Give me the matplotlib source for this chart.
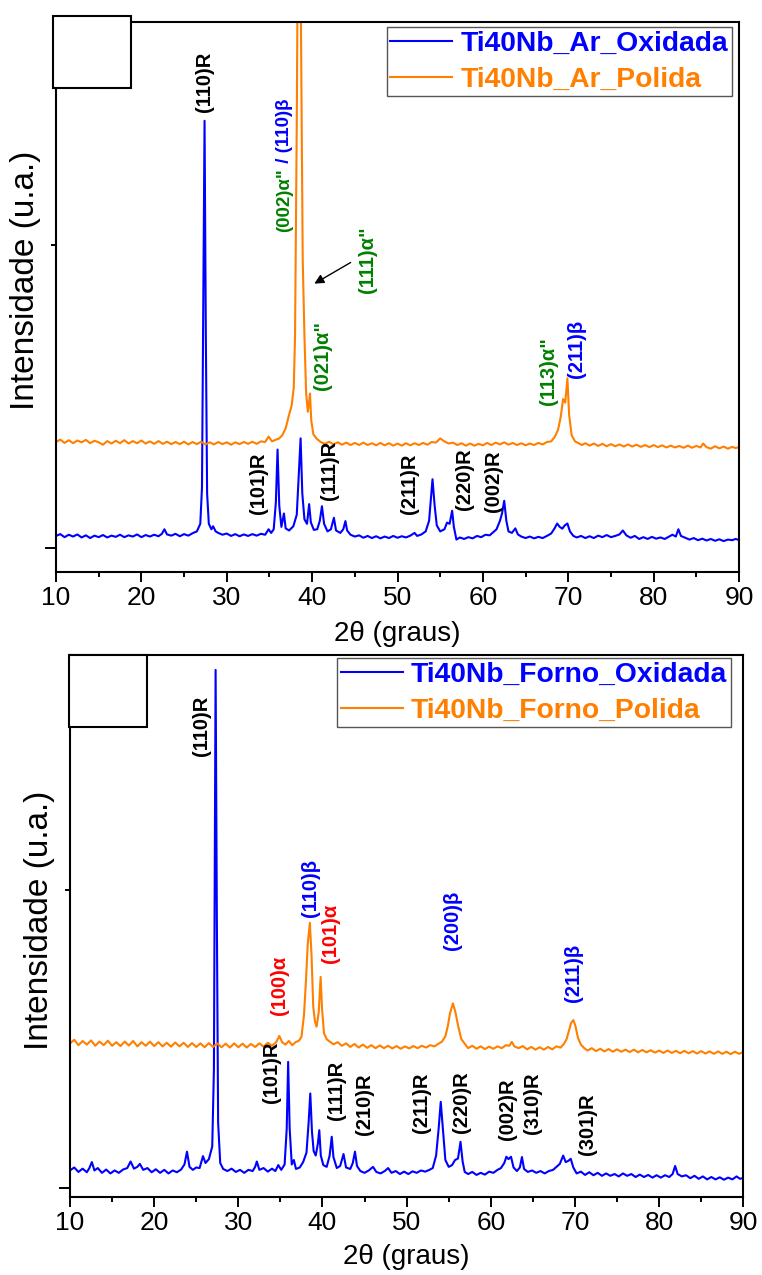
import matplotlib
matplotlib.use('Agg')
import matplotlib.pyplot as plt
from matplotlib.patches import Rectangle

plt.rcParams['font.family'] = ['Liberation Sans', 'DejaVu Sans']

# ---------------- data (2theta in degrees, intensity in arbitrary units) ----------------
ar_ox_2theta = [10.0, 10.5, 11.0, 11.5, 12.0, 12.5, 13.0, 13.5, 14.0, 14.5, 15.0, 15.5, 16.0, 16.5, 17.0, 17.5,
                18.0, 18.5, 19.0, 19.5, 20.0, 20.5, 21.0, 21.5, 22.0, 22.4, 22.7, 23.0, 23.5, 24.0, 24.5, 25.0,
                25.5, 26.0, 26.5, 26.9, 27.1, 27.25, 27.4, 27.55, 27.7, 27.9, 28.2, 28.4, 28.7, 29.0, 29.5, 30.0,
                30.5, 31.0, 31.5, 32.0, 32.5, 33.0, 33.5, 34.0, 34.5, 34.9, 35.2, 35.5, 35.75, 35.95, 36.15, 36.4,
                36.7, 36.9, 37.3, 37.8, 38.2, 38.45, 38.65, 38.85, 39.1, 39.4, 39.65, 39.85, 40.2, 40.6, 40.9, 41.15,
                41.4, 41.8, 42.2, 42.55, 42.8, 43.3, 43.65, 43.9, 44.1, 44.5, 45.0, 45.5, 46.0, 46.5, 47.0, 47.5,
                48.0, 48.5, 49.0, 49.5, 50.0, 50.5, 51.0, 51.5, 52.0, 52.3, 52.8, 53.3, 53.7, 54.1, 54.35, 54.6,
                55.0, 55.5, 55.8, 56.1, 56.4, 56.6, 56.9, 57.3, 57.8, 58.3, 58.8, 59.3, 59.8, 60.3, 60.8, 61.2,
                61.6, 62.0, 62.25, 62.5, 62.75, 63.0, 63.4, 63.8, 64.1, 64.5, 65.0, 65.5, 66.0, 66.5, 67.0, 67.5,
                68.0, 68.4, 68.7, 69.0, 69.3, 69.6, 69.9, 70.2, 70.6, 71.0, 71.5, 72.0, 72.5, 73.0, 73.5, 74.0,
                74.5, 75.0, 75.5, 76.0, 76.4, 76.8, 77.3, 77.8, 78.3, 78.8, 79.3, 79.8, 80.3, 80.8, 81.3, 81.8,
                82.2, 82.6, 82.9, 83.2, 83.7, 84.2, 84.7, 85.2, 85.7, 86.2, 86.7, 87.2, 87.7, 88.2, 88.7, 89.2,
                89.6, 90.0]
ar_ox_int = [40, 46, 36, 44, 38, 45, 35, 42, 33, 41, 36, 43, 35, 41, 37, 44,
             36, 42, 38, 45, 36, 43, 38, 44, 39, 47, 62, 45, 41, 47, 39, 46,
             41, 49, 55, 80, 200, 800, 1410, 700, 180, 80, 62, 72, 55, 50, 44, 48,
             40, 46, 39, 45, 40, 46, 41, 47, 44, 62, 50, 62, 150, 325, 140, 70,
             114, 65, 58, 72, 110, 250, 362, 180, 95, 80, 145, 85, 60, 62, 90, 138,
             80, 55, 62, 100, 58, 50, 62, 89, 58, 44, 38, 42, 34, 40, 33, 39,
             32, 38, 33, 40, 34, 39, 35, 41, 50, 40, 45, 55, 90, 227, 140, 75,
             55, 62, 84, 80, 123, 70, 28, 35, 30, 36, 32, 40, 36, 44, 42, 52,
             62, 90, 115, 156, 90, 55, 50, 65, 45, 38, 33, 38, 32, 37, 33, 40,
             48, 65, 81, 70, 64, 75, 81, 55, 40, 35, 40, 33, 39, 33, 41, 36,
             43, 36, 40, 45, 58, 42, 34, 40, 30, 36, 30, 37, 31, 35, 30, 38,
             44, 38, 62, 40, 34, 28, 33, 26, 31, 25, 30, 24, 29, 23, 28, 26,
             30, 27]

ar_pol_2theta = [10.0, 10.5, 11.0, 11.5, 12.0, 12.5, 13.0, 13.5, 14.0, 14.5, 15.0, 15.5, 16.0, 16.5, 17.0, 17.5,
                 18.0, 18.5, 19.0, 19.5, 20.0, 20.5, 21.0, 21.5, 22.0, 22.5, 23.0, 23.5, 24.0, 24.5, 25.0, 25.5,
                 26.0, 26.5, 27.0, 27.5, 28.0, 28.5, 29.0, 29.5, 30.0, 30.5, 31.0, 31.5, 32.0, 32.5, 33.0, 33.5,
                 34.0, 34.5, 34.9, 35.3, 35.7, 36.1, 36.5, 36.9, 37.3, 37.6, 37.85, 38.0, 38.2, 38.45, 38.7, 38.9,
                 39.1, 39.3, 39.5, 39.62, 39.75, 39.9, 40.15, 40.5, 41.0, 41.5, 42.0, 42.5, 43.0, 43.5, 44.0, 44.5,
                 45.0, 45.5, 46.0, 46.5, 47.0, 47.5, 48.0, 48.5, 49.0, 49.5, 50.0, 50.5, 51.0, 51.5, 52.0, 52.5,
                 53.0, 53.5, 54.0, 54.5, 55.0, 55.5, 56.0, 56.5, 57.0, 57.5, 58.0, 58.5, 59.0, 59.5, 60.0, 60.5,
                 61.0, 61.5, 62.0, 62.5, 63.0, 63.5, 64.0, 64.5, 65.0, 65.5, 66.0, 66.5, 67.0, 67.5, 68.0, 68.4,
                 68.8, 69.1, 69.4, 69.65, 69.9, 70.1, 70.4, 70.8, 71.2, 71.6, 72.0, 72.5, 73.0, 73.5, 74.0, 74.5,
                 75.0, 75.5, 76.0, 76.5, 77.0, 77.5, 78.0, 78.5, 79.0, 79.5, 80.0, 80.5, 81.0, 81.5, 82.0, 82.5,
                 83.0, 83.5, 84.0, 84.5, 85.0, 85.5, 85.8, 86.2, 86.7, 87.2, 87.7, 88.2, 88.7, 89.2, 89.6, 90.0]
ar_pol_int = [350, 358, 347, 356, 346, 355, 349, 357, 346, 354, 349, 341, 353, 345, 354, 346,
              356, 345, 353, 346, 355, 345, 352, 344, 353, 344, 351, 343, 350, 343, 351, 342,
              350, 343, 351, 342, 349, 342, 350, 343, 349, 341, 349, 343, 350, 344, 351, 344,
              352, 350, 368, 352, 357, 361, 372, 395, 440, 470, 530, 700, 1400, 2600, 1700, 950,
              700, 510, 450, 475, 510, 420, 375, 362, 350, 344, 351, 342, 349, 341, 348, 340,
              347, 340, 348, 340, 346, 339, 347, 339, 346, 338, 345, 338, 346, 339, 346, 340,
              347, 341, 350, 348, 362, 352, 345, 348, 340, 346, 338, 345, 338, 344, 339, 347,
              340, 348, 342, 349, 341, 347, 340, 346, 339, 345, 340, 347, 342, 350, 352, 366,
              390, 430, 492, 480, 560, 440, 372, 352, 346, 340, 346, 338, 345, 337, 344, 336,
              343, 336, 342, 335, 342, 335, 341, 334, 340, 333, 340, 333, 339, 332, 338, 332,
              337, 331, 338, 331, 337, 332, 345, 333, 328, 336, 329, 335, 328, 334, 330, 333]

forno_ox_2theta = [10.0, 10.5, 11.0, 11.5, 12.0, 12.3, 12.6, 12.9, 13.3, 13.8, 14.3, 14.8, 15.3, 15.8, 16.3, 16.8,
                   17.2, 17.6, 18.0, 18.3, 18.7, 19.2, 19.7, 20.2, 20.7, 21.2, 21.7, 22.2, 22.7, 23.2, 23.6, 23.9,
                   24.2, 24.6, 25.0, 25.4, 25.8, 26.1, 26.5, 26.9, 27.1, 27.3, 27.45, 27.6, 27.85, 28.2, 28.7, 29.2,
                   29.7, 30.2, 30.7, 31.2, 31.7, 32.0, 32.2, 32.5, 33.0, 33.5, 34.0, 34.4, 34.75, 35.1, 35.5, 35.75,
                   35.92, 36.1, 36.35, 36.6, 36.85, 37.3, 37.7, 38.1, 38.35, 38.55, 38.75, 38.95, 39.2, 39.45, 39.62, 39.8,
                   40.1, 40.5, 40.85, 41.1, 41.3, 41.7, 42.1, 42.5, 42.8, 43.3, 43.6, 43.86, 44.1, 44.5, 45.0, 45.5,
                   46.0, 46.4, 46.9, 47.4, 47.8, 48.2, 48.7, 49.2, 49.7, 50.2, 50.7, 51.2, 51.7, 52.2, 52.7, 53.1,
                   53.5, 53.8, 54.05, 54.3, 54.6, 55.0, 55.4, 55.75, 56.1, 56.4, 56.65, 56.9, 57.3, 57.8, 58.3, 58.8,
                   59.3, 59.8, 60.3, 60.8, 61.2, 61.6, 61.85, 62.1, 62.4, 62.7, 63.1, 63.45, 63.7, 63.95, 64.4, 64.9,
                   65.4, 65.9, 66.4, 66.9, 67.4, 67.8, 68.2, 68.6, 68.9, 69.2, 69.5, 69.8, 70.2, 70.7, 71.2, 71.7,
                   72.2, 72.7, 73.2, 73.7, 74.2, 74.7, 75.2, 75.7, 76.2, 76.7, 77.2, 77.7, 78.2, 78.7, 79.2, 79.7,
                   80.2, 80.7, 81.2, 81.6, 81.9, 82.2, 82.7, 83.2, 83.7, 84.2, 84.7, 85.2, 85.7, 86.2, 86.7, 87.2,
                   87.7, 88.2, 88.7, 89.2, 89.6, 90.0]
forno_ox_int = [60, 70, 55, 66, 54, 68, 88, 60, 68, 52, 63, 50, 60, 52, 63, 68,
                90, 66, 72, 82, 62, 68, 54, 64, 52, 62, 50, 60, 54, 63, 80, 123,
                72, 62, 70, 68, 108, 85, 98, 140, 400, 1738, 900, 220, 85, 65, 58, 66,
                55, 62, 52, 62, 58, 72, 90, 62, 68, 56, 66, 58, 78, 62, 80, 200,
                424, 200, 80, 95, 65, 70, 88, 120, 220, 318, 190, 125, 110, 150, 195, 110,
                78, 72, 110, 173, 105, 68, 75, 115, 70, 65, 85, 123, 75, 58, 52, 60,
                72, 55, 50, 58, 68, 52, 58, 48, 56, 48, 57, 52, 60, 56, 62, 68,
                110, 200, 290, 200, 95, 72, 78, 95, 100, 156, 90, 55, 48, 55, 45, 52,
                46, 56, 52, 62, 68, 85, 106, 98, 106, 70, 58, 70, 105, 65, 55, 60,
                52, 58, 50, 58, 62, 72, 82, 110, 88, 92, 99, 70, 50, 56, 45, 54,
                44, 52, 42, 50, 42, 48, 40, 50, 42, 48, 38, 46, 38, 45, 36, 44,
                36, 44, 38, 48, 75, 48, 40, 44, 34, 42, 32, 40, 30, 38, 30, 37,
                29, 36, 30, 40, 32, 35]

forno_pol_2theta = [10.0, 10.5, 11.0, 11.5, 12.0, 12.5, 13.0, 13.5, 14.0, 14.5, 15.0, 15.5, 16.0, 16.5, 17.0, 17.5,
                    18.0, 18.5, 19.0, 19.5, 20.0, 20.5, 21.0, 21.5, 22.0, 22.5, 23.0, 23.5, 24.0, 24.5, 25.0, 25.5,
                    26.0, 26.5, 27.0, 27.5, 28.0, 28.5, 29.0, 29.5, 30.0, 30.5, 31.0, 31.5, 32.0, 32.5, 33.0, 33.5,
                    34.0, 34.5, 34.87, 35.2, 35.6, 36.0, 36.4, 36.8, 37.2, 37.5, 37.8, 38.04, 38.25, 38.5, 38.7, 38.9,
                    39.1, 39.3, 39.55, 39.78, 39.95, 40.18, 40.5, 40.9, 41.3, 41.8, 42.3, 42.8, 43.3, 43.8, 44.3, 44.8,
                    45.3, 45.8, 46.3, 46.8, 47.3, 47.8, 48.3, 48.8, 49.3, 49.8, 50.3, 50.8, 51.3, 51.8, 52.3, 52.8,
                    53.3, 53.8, 54.2, 54.6, 54.9, 55.15, 55.5, 55.8, 56.14, 56.5, 56.9, 57.3, 57.8, 58.3, 58.8, 59.3,
                    59.8, 60.3, 60.8, 61.3, 61.8, 62.2, 62.5, 62.8, 63.3, 63.8, 64.3, 64.8, 65.3, 65.8, 66.3, 66.8,
                    67.3, 67.8, 68.3, 68.7, 69.0, 69.3, 69.55, 69.8, 70.05, 70.35, 70.7, 71.1, 71.5, 72.0, 72.5, 73.0,
                    73.5, 74.0, 74.5, 75.0, 75.5, 76.0, 76.5, 77.0, 77.5, 78.0, 78.5, 79.0, 79.5, 80.0, 80.5, 81.0,
                    81.5, 82.0, 82.5, 83.0, 83.5, 84.0, 84.5, 85.0, 85.5, 86.0, 86.5, 87.0, 87.5, 88.0, 88.5, 89.0,
                    89.5, 90.0]
forno_pol_int = [486, 498, 480, 494, 482, 496, 478, 492, 480, 495, 478, 490, 477, 492, 479, 494,
                 476, 490, 478, 492, 477, 490, 476, 488, 475, 489, 476, 488, 474, 487, 474, 486,
                 473, 487, 474, 486, 473, 485, 472, 486, 473, 485, 472, 484, 474, 486, 475, 488,
                 478, 490, 511, 490, 482, 494, 480, 490, 495, 508, 580, 698, 820, 890, 780, 609,
                 560, 542, 590, 709, 600, 520, 500, 491, 483, 490, 478, 486, 474, 484, 472, 482,
                 471, 480, 470, 479, 470, 478, 469, 477, 468, 476, 469, 477, 470, 478, 472, 480,
                 476, 485, 492, 510, 545, 587, 620, 590, 542, 500, 485, 470, 478, 468, 476, 467,
                 475, 468, 476, 470, 480, 478, 491, 476, 470, 477, 466, 474, 465, 473, 465, 474,
                 466, 476, 472, 485, 500, 530, 555, 564, 545, 505, 482, 470, 462, 470, 460, 468,
                 459, 467, 458, 466, 458, 465, 457, 465, 456, 464, 456, 463, 455, 462, 454, 462,
                 454, 461, 453, 461, 453, 460, 452, 460, 452, 459, 451, 459, 451, 458, 450, 458,
                 451, 457]

series_labels_top = ['Ti40Nb_Ar_Oxidada', 'Ti40Nb_Ar_Polida']
series_labels_bottom = ['Ti40Nb_Forno_Oxidada', 'Ti40Nb_Forno_Polida']

# peak annotations: (text, 2theta, intensity at label foot, colour)
top_peaks = [('(110)R', 27.45, 1439, 'black'),
             ('(021)α"', 41.24, 521, 'green'),
             ('(101)R', 33.7, 112, 'black'),
             ('(111)R', 42.0, 158, 'black'),
             ('(211)R', 51.46, 112, 'black'),
             ('(220)R', 57.9, 125, 'black'),
             ('(002)R', 61.2, 120, 'black'),
             ('(113)α"', 67.66, 472, 'green'),
             ('(211)β', 70.99, 560, 'blue')]
bottom_peaks = [('(110)R', 25.65, 1449, 'black'),
                ('(110)β', 38.52, 910, 'blue'),
                ('(101)α', 40.9, 754, 'red'),
                ('(100)α', 34.95, 581, 'red'),
                ('(200)β', 55.5, 799, 'blue'),
                ('(211)β', 69.77, 625, 'blue'),
                ('(101)R', 33.97, 285, 'black'),
                ('(111)R', 41.69, 229, 'black'),
                ('(210)R', 45.05, 179, 'black'),
                ('(211)R', 51.79, 184, 'black'),
                ('(220)R', 56.46, 185, 'black'),
                ('(002)R', 62.04, 162, 'black'),
                ('(310)R', 65.01, 182, 'black'),
                ('(301)R', 71.43, 112, 'black')]

BLUE = '#0000FF'
ORANGE = '#FF7F00'
GREEN = '#008000'
RED = '#FF0000'
cmap = {'black': 'black', 'green': GREEN, 'blue': BLUE, 'red': RED}
ANN_SIZE = 14.5

W, H = 762, 1275
fig = plt.figure(figsize=(W / 100, H / 100), dpi=100)


def fx(px):
    return px / W


def fy(py):
    return 1 - py / H


ax1 = fig.add_axes([fx(56), fy(571.7), fx(739) - fx(56), fy(21.7) - fy(571.7)])
ax2 = fig.add_axes([fx(70), fy(1196.7), fx(743.3) - fx(70), fy(655) - fy(1196.7)])


def style_axes(ax, ylim):
    ax.set_xlim(10, 90)
    ax.set_ylim(*ylim)
    ax.set_xticks(range(10, 91, 10))
    ax.set_xticks(range(15, 90, 10), minor=True)
    ax.set_yticks([0])
    ax.set_yticks([1000], minor=True)
    ax.set_yticklabels([])
    ax.tick_params(axis='x', which='major', direction='out', length=7, width=1.4,
                   labelsize=19, pad=3.5)
    ax.tick_params(axis='x', which='minor', direction='out', length=3.5, width=1.4)
    ax.tick_params(axis='y', which='major', direction='out', length=8, width=1.4)
    ax.tick_params(axis='y', which='minor', direction='out', length=3.5, width=1.4)
    for s in ax.spines.values():
        s.set_linewidth(1.5)


def add_labels(ax, peaks):
    for txt, x, y, c in peaks:
        ax.text(x, y, txt, rotation=90, ha='center', va='bottom', fontsize=ANN_SIZE,
                fontweight='bold', color=cmap[c])


def add_legend(ax, handles, labels, corner):
    leg = ax.legend(handles, labels, loc='upper right',
                    bbox_to_anchor=corner, bbox_transform=fig.transFigure,
                    prop={'weight': 'bold', 'size': 20.3}, labelcolor='linecolor',
                    fancybox=False, edgecolor='#555555', framealpha=1, borderpad=0.12,
                    handlelength=2.2, handletextpad=0.3, labelspacing=0.38, borderaxespad=0)
    leg.get_frame().set_linewidth(1.0)
    return leg


# ---------- top panel ----------
l1, = ax1.plot(ar_ox_2theta, ar_ox_int, color=BLUE, lw=1.5)
l2, = ax1.plot(ar_pol_2theta, ar_pol_int, color=ORANGE, lw=1.5)
style_axes(ax1, (-78, 1737))
add_labels(ax1, top_peaks)
t_g = ax1.text(36.82, 1044, '(002)α"', rotation=90, ha='center', va='bottom', fontsize=13.5,
               fontweight='bold', color=GREEN)
ax1.annotate(' / (110)β', xy=(0.5, 1.0), xycoords=t_g, rotation=90, ha='center', va='bottom',
             fontsize=13.5, fontweight='bold', color=BLUE)
ax1.text(46.43, 841, '(111)α"', rotation=90, ha='center', va='bottom', fontsize=ANN_SIZE,
         fontweight='bold', color=GREEN)
ax1.annotate('', xy=(39.98, 868), xytext=(44.79, 947),
             arrowprops=dict(arrowstyle='-|>', color='black', lw=1.0, mutation_scale=14))
add_legend(ax1, [l1, l2], series_labels_top, (fx(731.7), fy(27)))

# ---------- bottom panel ----------
l3, = ax2.plot(forno_ox_2theta, forno_ox_int, color=BLUE, lw=1.5)
l4, = ax2.plot(forno_pol_2theta, forno_pol_int, color=ORANGE, lw=1.5)
style_axes(ax2, (-28, 1788))
add_labels(ax2, bottom_peaks)
add_legend(ax2, [l3, l4], series_labels_bottom, (fx(730.7), fy(658)))

# axis titles
fig.text(fx(397.5), fy(634), '2θ (graus)', ha='center', va='center', fontsize=20)
fig.text(fx(406.6), fy(1257), '2θ (graus)', ha='center', va='center', fontsize=20)
fig.text(fx(26), fy(280), 'Intensidade (u.a.)', rotation=90, ha='center', va='center', fontsize=24)
fig.text(fx(40), fy(920), 'Intensidade (u.a.)', rotation=90, ha='center', va='center', fontsize=24)

# empty boxes in the top-left corners
fig.add_artist(Rectangle((fx(52.7), fy(88.3)), fx(131.3) - fx(52.7), fy(16) - fy(88.3),
                         transform=fig.transFigure, facecolor='white', edgecolor='black',
                         lw=1.5, zorder=10))
fig.add_artist(Rectangle((fx(69), fy(727.3)), fx(147) - fx(69), fy(655) - fy(727.3),
                         transform=fig.transFigure, facecolor='white', edgecolor='black',
                         lw=1.5, zorder=10))

fig.savefig('out.png', dpi=100)
